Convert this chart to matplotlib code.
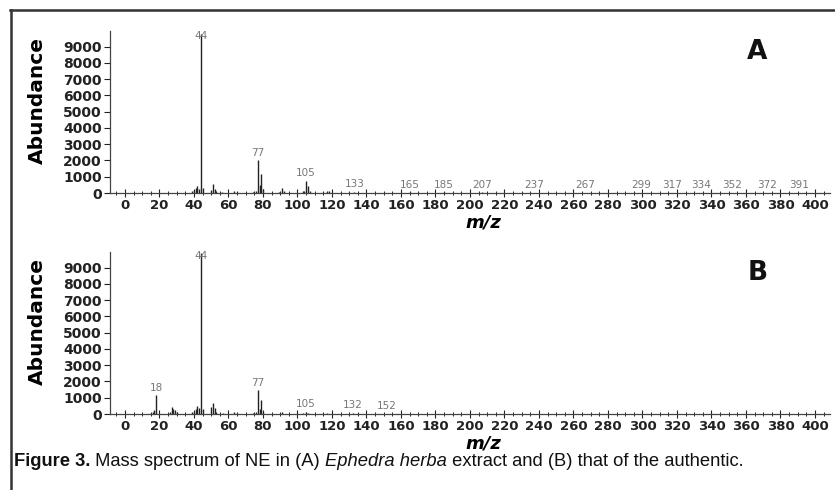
import numpy as np
import matplotlib
matplotlib.use('Agg')
import matplotlib.pyplot as plt
from matplotlib.ticker import MultipleLocator
from matplotlib.lines import Line2D

# (A) Ephedra herba extract
mz_a = [39, 40, 41, 42, 43, 44, 45, 50, 51, 52, 53, 56, 63, 65, 74, 76, 77, 78, 79, 80,
        89, 91, 92, 103, 104, 105, 106, 107, 115, 117, 118, 133, 165, 185, 207, 237,
        267, 299, 317, 334, 352, 372, 391]
ab_a = [100, 200, 300, 450, 250, 9800, 300, 200, 550, 250, 120, 80, 100, 80, 80, 150, 2000, 500, 1200, 250,
        80, 300, 100, 100, 150, 750, 450, 150, 80, 150, 100, 60, 40, 40, 40, 30,
        30, 30, 30, 30, 30, 30, 30]
lab_a = [44, 77, 105, 133, 165, 185, 207, 237, 267, 299, 317, 334, 352, 372, 391]

# (B) authentic
mz_b = [15, 16, 17, 18, 26, 27, 28, 29, 30, 39, 40, 41, 42, 43, 44, 45, 50, 51, 52, 53,
        57, 63, 65, 74, 76, 77, 78, 79, 80, 91, 103, 105, 106, 115, 117, 132, 152]
ab_b = [80, 150, 250, 1150, 150, 430, 300, 250, 100, 150, 100, 300, 500, 350, 9900, 300, 450, 700, 350, 150,
        80, 100, 80, 80, 100, 1450, 300, 850, 150, 100, 60, 150, 80, 60, 80, 50, 30]
lab_b = [18, 44, 77, 105, 132, 152]

yticks = [0, 1000, 2000, 3000, 4000, 5000, 6000, 7000, 8000, 9000]
xticks = list(range(0, 401, 20))

fig = plt.figure(figsize=(8.35, 4.9), dpi=100)

def spectrum(ax, mz, ab, labs, tag):
    ax.vlines(mz, 0, ab, color='#222222', lw=1.0)
    d = dict(zip(mz, ab))
    for m in labs:
        h = d.get(m, 0)
        if h > 9000:
            ax.annotate(str(m), (m, h), xytext=(0, -2), textcoords='offset points',
                        ha='center', va='center', fontsize=7.5, color='#777777')
        else:
            ax.annotate(str(m), (m, h), xytext=(0, 2), textcoords='offset points',
                        ha='center', va='bottom', fontsize=7.5, color='#777777')
    ax.set_xlim(-8.7, 408.7)
    ax.set_ylim(0, 9950)
    ax.set_xticks(xticks)
    ax.set_yticks(yticks)
    ax.xaxis.set_minor_locator(MultipleLocator(5))
    for s in ['top', 'right']:
        ax.spines[s].set_visible(False)
    ax.spines['left'].set_color('#444444')
    ax.spines['bottom'].set_color('#444444')
    ax.spines['left'].set_linewidth(0.9)
    ax.spines['bottom'].set_linewidth(0.9)
    ax.tick_params(axis='x', which='major', direction='inout', length=6, width=0.8, pad=1,
                   labelsize=9.5, colors='#222222')
    ax.tick_params(axis='x', which='minor', direction='inout', length=3, width=0.6)
    ax.tick_params(axis='y', direction='out', length=4, width=0.8, pad=2, labelsize=10, colors='#222222')
    for t in ax.get_xticklabels() + ax.get_yticklabels():
        t.set_fontweight('bold')
    ax.set_ylabel('Abundance', fontsize=14.5, fontweight='bold')
    ax.yaxis.set_label_coords(-0.088, 0.57)
    ax.set_xlabel('m/z', fontsize=13, fontweight='bold', fontstyle='italic')
    ax.xaxis.set_label_coords(0.518, -0.125)
    ax.text(0.899, 0.87, tag, transform=ax.transAxes, fontsize=19, fontweight='bold',
            ha='center', va='center', color='#111111')

ax1 = fig.add_axes([0.1317, 0.606, 0.8623, 0.3306])
spectrum(ax1, mz_a, ab_a, lab_a, 'A')
ax2 = fig.add_axes([0.1317, 0.155, 0.8623, 0.3306])
spectrum(ax2, mz_b, ab_b, lab_b, 'B')

# frame of the figure panel
fig.add_artist(Line2D([10/835, 1.0], [1 - 10/490, 1 - 10/490], color='#333333', lw=1.8))
fig.add_artist(Line2D([11/835, 11/835], [0, 1 - 10/490], color='#333333', lw=1.8))

# caption with mixed styles
cap_font = ['Liberation Sans', 'DejaVu Sans']
parts = [('Figure 3.', 'bold', 'normal'),
         (' Mass spectrum of NE in (A) ', 'normal', 'normal'),
         ('Ephedra herba', 'normal', 'italic'),
         (' extract and (B) that of the authentic.', 'normal', 'normal')]
fig.canvas.draw()
r = fig.canvas.get_renderer()
x = 14
for s, w, st in parts:
    t = fig.text(x / 835, 1 - 466 / 490, s, family=cap_font, fontsize=13.2, fontweight=w,
                 fontstyle=st, va='baseline', ha='left', color='#111111')
    x += t.get_window_extent(renderer=r).width

fig.savefig('out.png', dpi=100)
